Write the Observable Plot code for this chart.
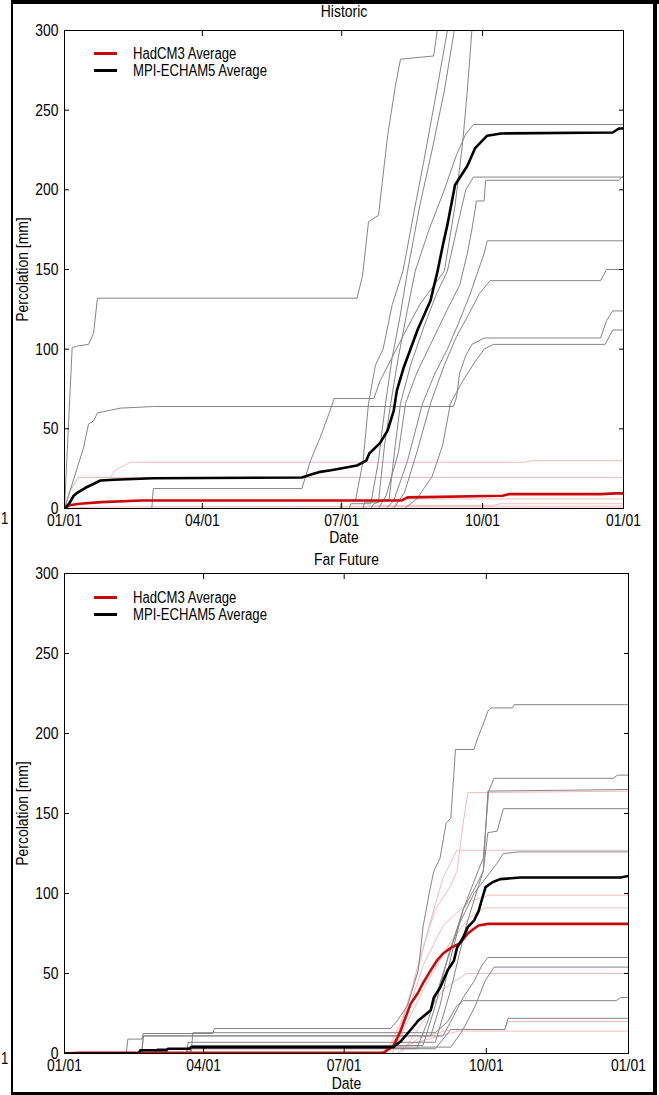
<!DOCTYPE html>
<html>
<head>
<meta charset="utf-8">
<script src="https://cdn.jsdelivr.net/npm/d3@7"></script>
<script src="https://cdn.jsdelivr.net/npm/@observablehq/plot@0.6"></script>
<style>
  body { margin: 0; background: #fff; }
  #fig { position: relative; width: 659px; height: 1095px; overflow: hidden; background: #fff;
         font-family: "Liberation Sans", Arial, sans-serif; }
  .bar { position: absolute; background: #000; }
  .panel { position: absolute; left: 0; }
  .legend { position: absolute; left: 94px; font-size: 16px; color: #000; line-height: 17px; }
  .legend .row { position: relative; height: 17px; white-space: nowrap; }
  .legend .swatch { position: absolute; left: 0; top: 7px; width: 23px; height: 3px; }
  .legend .lab { position: absolute; left: 39px; top: 0; transform: scaleX(0.82); transform-origin: 0 50%; }
  .stray { position: absolute; left: 1px; font-size: 16px; transform: scaleX(0.82); transform-origin: 0 50%; }
</style>
</head>
<body>
<div id="fig"></div>
<script>
// ---------- axis ticks ----------
const dateTicks = [0, 90, 181, 273, 365];
const dateTickLabels = ["01/01", "04/01", "07/01", "10/01", "01/01"];
const yTicks = [0, 50, 100, 150, 200, 250, 300];
const legendLabels = ["HadCM3 Average", "MPI-ECHAM5 Average"];
const panelTitles = ["Historic", "Far Future"];

// ---------- Historic: MPI-ECHAM5 runs (day of year, mm) ----------
const histMpiA = [[0,0],[5,101],[8.5,102],[15.7,103],[19,110],[21.5,132],[191,132],[194.6,146],[198.5,180],[205,184],[211,234],[216,265],[219.4,282],[241,284],[243.6,301],[246,330]];
const histMpiB = [[0,0],[12.4,38],[15.7,53],[19,55],[21.5,60],[36.6,63],[58,64],[254,64],[256,70],[258,85],[262,96],[266,103],[274,107],[350,107],[354,118],[358,124],[365,124]];
const histMpiC = [[0,0],[57,0],[58,12.5],[155,12.5],[160.6,30],[167,44.6],[174,63],[176,69],[202,69],[206,80],[214,95],[222,110],[232,128],[248,149],[255,190],[260,230],[263,262],[266,300],[268,330]];
const histMpiD = [[0,0],[180,0],[181,5],[190,5],[195,30],[198.5,66],[203,90],[208,100],[214,128],[221,149],[228,185],[235,220],[243,262],[250,300],[252,330]];
const histMpiE = [[0,0],[186,0],[187,3],[200,3],[205,30],[209.6,66],[214,95],[219,120],[224,149],[232,190],[240,225],[248,262],[254.5,300],[256,330]];
const histMpiG = [[0,0],[195,0],[196,4],[205,4],[209,40],[213,66],[218,95],[224,125],[229,149],[238,175],[248,200],[256,222],[262,235],[267,241],[365,241]];
const histMpiH = [[0,0],[200,0],[202,3],[212,6],[216,40],[219.4,66],[226,90],[235,115],[243,135],[250,149],[256,175],[262,200],[267,208],[365,208]];
const histMpiI = [[0,0],[205,0],[210,8],[218,35],[222.7,66],[230,85],[240,105],[250,125],[258,140],[263,160],[266,175],[269,193],[274,193],[275,206],[362,206],[364,208],[365,208]];
const histMpiJ = [[0,0],[210,0],[215,5],[224,30],[233.8,66],[242,85],[250,100],[258,118],[265,135],[270,149],[274,160],[276,168],[365,168]];
const histMpiK = [[0,0],[215,0],[222,10],[230,35],[239,66],[248,90],[256,108],[264,122],[271,135],[278,143],[350,143],[354,150],[365,150]];
const histMpiF = [[0,0],[222,0],[230,6],[240,20],[247,40],[252,66],[260,80],[268,92],[274,100],[280,103],[353,103],[358,112],[365,112]];

// ---------- Historic: HadCM3 runs ----------
const histHadP1 = [[0,0],[3,10],[9,19.5],[30,19.5],[33,24],[43,29],[300,29],[305,30],[365,30]];
const histHadP2 = [[0,0],[4,12],[9,19.5],[365,19.5]];
const histHadP3 = [[0,0],[195,0],[200,2],[280,2],[285,3],[365,3]];
const histHadP4 = [[0,0],[20,1],[365,1.5]];
const histHadP5 = [[0,0],[214,0],[218,6],[365,6]];
const histHadP6 = [[0,0],[365,0.3]];

// ---------- Historic: averages ----------
const histMpiAvg = [[0,0],[3,3],[6,8],[8.5,10],[13.7,13],[23.5,17.6],[32,18],[58,19],[155,19.5],[160,21],[167,23],[174,24],[191,27],[197,30],[199,34.5],[206,41],[211,49],[215,61.5],[217,74],[221.5,88.5],[230.5,112],[239,130.6],[243.6,149],[247,165],[250,178],[255,203],[263,215],[268,226],[276,234],[285,235.4],[358,236],[362,238.5],[365,238.5]];
const histHadAvg = [[0,0],[3,2],[10,3],[24,4],[50,5],[220,5],[224,7],[286,8],[290,9],[350,9],[360,9.5],[365,9.5]];

// ---------- Far Future: MPI-ECHAM5 runs ----------
const futMpiM1 = [[0,0],[40,0],[41,9],[50,9],[51,12.5],[96,12.5],[97,15.6],[211,15.6],[215,20],[222,30],[229,52],[232,79],[236,100],[239,114],[243,122],[247,144],[250,147],[252,175],[253,190],[265,190],[267,196],[271,206],[274,214],[276,216],[290,216],[291,218],[365,218]];
const futMpiM2 = [[0,0],[50,0],[51,11],[237,11],[243,30],[250,60],[258,90],[268,115],[271,122],[274.5,164],[278,172],[355,172],[358,174],[365,174]];
const futMpiM3 = [[0,0],[81,0],[82,5],[232,5],[240,30],[248,60],[258,90],[268,108],[271,114],[274,164],[365,165]];
const futMpiM4 = [[0,0],[79,0],[80,7],[240,7],[250,40],[260,80],[268,105],[271,114],[274,138],[280,139],[284,153],[365,153]];
const futMpiM5 = [[0,0],[59,0],[60,3],[228,3],[235,20],[245,50],[255,80],[265,100],[280,119],[284,125],[294,126],[365,126]];
const futMpiM6 = [[0,0],[50,0],[51,11],[245,11],[250,20],[258,35],[265,45],[270,55],[274,60],[365,60]];
const futMpiM7 = [[0,0],[79,0],[80,4],[250,4],[258,15],[266,30],[272,45],[278,54],[365,54]];
const futMpiM8 = [[0,0],[82,0],[83,13],[240,13],[248,20],[254,30],[258,33],[357,33],[360,35],[365,35]];
const futMpiM9 = [[0,0],[59,0],[60,3],[240,3],[250,15],[285,15],[287,22],[365,22]];

// ---------- Far Future: HadCM3 runs ----------
const futHadH1 = [[0,0],[205,0],[215,10],[222,30],[230,60],[240,90],[250,105],[254,114],[258,144],[261,163],[365,164]];
const futHadH2 = [[0,0],[208,0],[218,20],[228,50],[236,80],[245,110],[254,127],[365,127]];
const futHadH3 = [[0,0],[210,0],[222,25],[232,55],[245,80],[262,95],[275,99],[365,99]];
const futHadH4 = [[0,0],[212,0],[222,20],[235,45],[250,70],[262,85],[272,91],[365,91]];
const futHadH5 = [[0,0],[218,0],[232,20],[245,40],[260,50],[365,50]];
const futHadH6 = [[0,0],[215,0],[230,10],[250,15],[285,15],[287,20],[365,20]];
const futHadH7 = [[0,0],[200,0],[220,5],[255,14],[365,14]];

// ---------- Far Future: averages ----------
const futMpiAvg = [[0,0],[48,0],[49,2],[66,2],[67,3],[81,3],[82,4],[213,4],[218,8],[222,12.5],[229,20.6],[237,27],[239,35],[243,41],[248,52],[252,58],[254,66],[258,72.5],[261,79],[265,83],[268,89],[270.5,97.5],[272.5,104],[277,107],[282,109],[295,110],[360,110],[365,111]];
const futHadAvg = [[0,0],[10,0.5],[206.5,0.5],[213,5],[217.5,14],[220.7,22.5],[224,31],[228.5,37.5],[232,44],[237,52],[241,58],[245,62.5],[250,66],[256,69],[261,75],[265,78],[268,80],[274,81],[365,81]];

// ---------- colours ----------
const colMpiRun = "#858585";
const colHadRun = "#f3bcbc";
const colMpiAvg = "#000000";
const colHadAvg = "#c80a0a";

const histMpiRuns = [histMpiA, histMpiB, histMpiC, histMpiD, histMpiE, histMpiG, histMpiH, histMpiI, histMpiJ, histMpiK, histMpiF];
const histHadRuns = [histHadP1, histHadP2, histHadP3, histHadP4, histHadP5, histHadP6];
const futMpiRuns = [futMpiM1, futMpiM2, futMpiM3, futMpiM4, futMpiM5, futMpiM6, futMpiM7, futMpiM8, futMpiM9];
const futHadRuns = [futHadH1, futHadH2, futHadH3, futHadH4, futHadH5, futHadH6, futHadH7];

const toRows = (runs, tag) => runs.flatMap((r, i) => r.map(([d, v]) => ({day: d, value: v, run: tag + i})));
const toPts = (r) => r.map(([d, v]) => ({day: d, value: v}));
const fmtDate = (d) => dateTickLabels[dateTicks.indexOf(d)];

function makePanel({title, mpiRuns, hadRuns, mpiAvg, hadAvg, height, marginTop, marginBottom, marginRight, titleDy, labelOffsetX}) {
  return Plot.plot({
    width: 659, height, marginLeft: 64, marginRight, marginTop, marginBottom,
    style: {fontFamily: '"Liberation Sans", Arial, sans-serif', fontSize: "17px", color: "#000", background: "#fff", overflow: "visible"},
    x: {domain: [0, 365]},
    y: {domain: [0, 300]},
    marks: [
      Plot.line(toRows(hadRuns, "h"), {x: "day", y: "value", z: "run", stroke: colHadRun, strokeWidth: 1, clip: true}),
      Plot.line(toRows(mpiRuns, "m"), {x: "day", y: "value", z: "run", stroke: colMpiRun, strokeWidth: 1, clip: true}),
      Plot.line(toPts(hadAvg), {x: "day", y: "value", stroke: colHadAvg, strokeWidth: 2.6, clip: true}),
      Plot.line(toPts(mpiAvg), {x: "day", y: "value", stroke: colMpiAvg, strokeWidth: 2.6, clip: true}),
      Plot.frame({stroke: "#000", strokeWidth: 1}),
      Plot.axisX({anchor: "bottom", ticks: dateTicks, tickFormat: fmtDate, tickSize: -5, tickPadding: 10,
                  label: "Date", labelAnchor: "center", labelArrow: "none", labelOffset: labelOffsetX}),
      Plot.axisX({anchor: "top", ticks: dateTicks, tickFormat: () => "", tickSize: -5, label: null}),
      Plot.axisY({anchor: "left", ticks: yTicks, tickSize: -5, tickPadding: 11,
                  label: "Percolation [mm]", labelAnchor: "center", labelArrow: "none", labelOffset: 49}),
      Plot.axisY({anchor: "right", ticks: yTicks, tickFormat: () => "", tickSize: -5, label: null}),
      Plot.text([title], {text: d => d, frameAnchor: "top", lineAnchor: "bottom", dy: titleDy, fontSize: 17})
    ]
  });
}

// condense every SVG text horizontally (narrow MATLAB-style glyphs)
function condense(svg, k) {
  svg.querySelectorAll("text").forEach(t => {
    const tr = t.getAttribute("transform");
    if (tr) {
      t.setAttribute("transform", tr + ` scale(${k},1)`);
    } else {
      const x = parseFloat(t.getAttribute("x") || 0), y = parseFloat(t.getAttribute("y") || 0);
      t.setAttribute("transform", `translate(${x},${y}) scale(${k},1) translate(${-x},${-y})`);
    }
  });
  return svg;
}

const fig = document.getElementById("fig");

function addPanel(svg, top) {
  svg.classList.add("panel");
  svg.style.top = top + "px";
  fig.appendChild(svg);
  condense(svg, 0.82);
}
function addLegend(top) {
  const lg = document.createElement("div");
  lg.className = "legend";
  lg.style.top = top + "px";
  [[colHadAvg, legendLabels[0]], [colMpiAvg, legendLabels[1]]].forEach(([c, t]) => {
    const row = document.createElement("div"); row.className = "row";
    const sw = document.createElement("div"); sw.className = "swatch"; sw.style.background = c;
    const lb = document.createElement("div"); lb.className = "lab"; lb.textContent = t;
    row.appendChild(sw); row.appendChild(lb); lg.appendChild(row);
  });
  fig.appendChild(lg);
}

addPanel(makePanel({title: panelTitles[0], mpiRuns: histMpiRuns, hadRuns: histHadRuns, mpiAvg: histMpiAvg, hadAvg: histHadAvg,
  height: 548, marginTop: 30, marginBottom: 40, marginRight: 36, titleDy: -14, labelOffsetX: 34}), 0);
addPanel(makePanel({title: panelTitles[1], mpiRuns: futMpiRuns, hadRuns: futHadRuns, mpiAvg: futMpiAvg, hadAvg: futHadAvg,
  height: 547, marginTop: 25, marginBottom: 42, marginRight: 31, titleDy: -9, labelOffsetX: 35}), 548);

addLegend(45);
addLegend(589);

// outer figure border
[[11, 0, 2, 1095], [11, 0, 648, 4], [653, 0, 4, 1095], [11, 1092, 646, 3]].forEach(([l, t, w, h]) => {
  const b = document.createElement("div"); b.className = "bar";
  Object.assign(b.style, {left: l + "px", top: t + "px", width: w + "px", height: h + "px"});
  fig.appendChild(b);
});
// clipped fragments of the neighbouring figure's tick labels
[510, 1050].forEach(t => {
  const s = document.createElement("div"); s.className = "stray"; s.style.top = t + "px"; s.textContent = dateTickLabels[0].slice(-1);
  fig.appendChild(s);
});
</script>
</body>
</html>
